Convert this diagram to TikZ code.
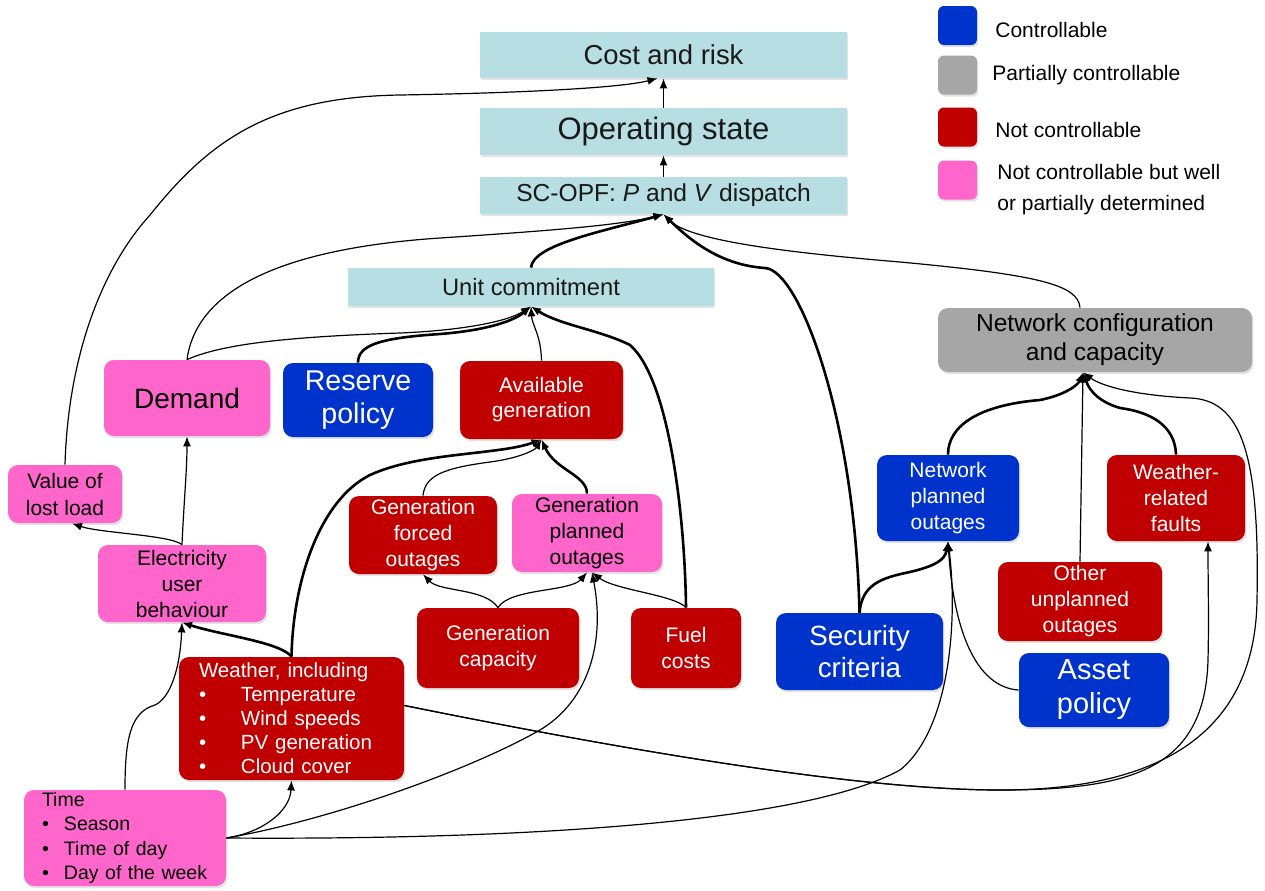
\documentclass[tikz,border=0pt]{standalone}
\usepackage{fontspec}
\setmainfont{Liberation Sans}
\usetikzlibrary{arrows.meta,shadows,calc}
\definecolor{cblue}{HTML}{0033CC}
\definecolor{cred}{HTML}{C00000}
\definecolor{cpink}{HTML}{FF66CC}
\definecolor{cgray}{HTML}{A6A6A6}
\definecolor{cteal}{HTML}{B7DEE2}
\newcommand\fs[2]{\fontsize{#1}{#2}\selectfont}
\newcommand\mkbox[7]{\node[#6, minimum width={(#4-#2)*0.5pt}, minimum height={(#5-#3)*0.5pt}] (#1) at ({(#2+#4)/2},{(#3+#5)/2}) {#7};}
\begin{document}
\begin{tikzpicture}[x=0.5pt,y=-0.5pt,
  base/.style={inner sep=0pt, align=center, drop shadow={shadow xshift=0.7pt, shadow yshift=-1.1pt, opacity=0.22}},
  teal/.style={base, fill=cteal, text=black!90},
  rbox/.style={base, rounded corners=5pt},
  bluebox/.style={rbox, fill=cblue, text=white},
  redbox/.style={rbox, fill=cred, text=white},
  pinkbox/.style={rbox, fill=cpink, text=black},
  graybox/.style={rbox, fill=cgray, text=black},
  smtxt/.style={font=\fs{10.5}{13}},
  lnthin/.style={draw, line width=0.6pt, -{Latex[length=5pt,width=4pt]}},
  lnthick/.style={draw, line width=1.3pt, -{Latex[length=5pt,width=4pt]}},
  legtxt/.style={anchor=west, inner sep=0pt, align=left, font=\fs{10.5}{15.5}}
]
\useasboundingbox (0,0) rectangle (1265,890);

% ---------- boxes ----------
\mkbox{cost}{480}{32}{847}{78}{teal,font=\fs{13.7}{16}}{Cost and risk}
\mkbox{ops}{480}{108}{847}{155}{teal,font=\fs{15.5}{18}}{Operating state}
\mkbox{scopf}{480}{177}{847}{214}{teal,font=\fs{12.3}{14}}{SC-OPF: \textit{P} and \textit{V} dispatch}
\mkbox{uc}{348}{268}{714}{306}{teal,font=\fs{11.85}{14}}{Unit commitment}
\mkbox{netcfg}{938}{308}{1252}{372}{graybox,font=\fs{12.3}{14.5}}{Network configuration\\and capacity}
\mkbox{demand}{104}{360}{270}{436}{pinkbox,font=\fs{14}{16.5}}{Demand}
\mkbox{reserve}{283}{363}{433}{437}{bluebox,font=\fs{14.3}{16.5}}{Reserve\\policy}
\mkbox{avail}{460}{361}{623}{439}{redbox,font=\fs{10.5}{12.5}}{Available\\generation}
\mkbox{voll}{8}{465}{122}{523}{pinkbox,font=\fs{10.5}{13.5}}{Value of\\lost load}
\mkbox{eub}{98}{545}{266}{622}{pinkbox,smtxt}{Electricity\\user\\behaviour}
\mkbox{gfo}{349}{496}{497}{574}{redbox,smtxt}{Generation\\forced\\outages}
\mkbox{gpo}{512}{494}{662}{572}{pinkbox,smtxt}{Generation\\planned\\outages}
\mkbox{gcap}{417}{608}{579}{688}{redbox,smtxt}{Generation\\capacity}
\mkbox{fuel}{631}{608}{741}{688}{redbox,smtxt}{Fuel\\costs}
\mkbox{sec}{776}{613}{943}{690}{bluebox,font=\fs{13.9}{16}}{Security\\criteria}
\mkbox{npo}{877}{455}{1019}{541}{bluebox,smtxt}{Network\\planned\\outages}
\mkbox{wrf}{1107}{455}{1245}{541}{redbox,smtxt}{Weather-\\related\\faults}
\mkbox{ouo}{998}{562}{1162}{641}{redbox,smtxt}{Other\\unplanned\\outages}
\mkbox{asset}{1019}{653}{1169}{727}{bluebox,font=\fs{14.5}{17}}{Asset\\policy}

\node[redbox, font=\fs{10.25}{12}, align=left, text width=92.5pt, inner xsep=10pt, minimum height=61.5pt] (weather) at (291.5,718.5)
  {Weather, including\\
   \makebox[21pt][l]{\textbullet}Temperature\\
   \makebox[21pt][l]{\textbullet}Wind speeds\\
   \makebox[21pt][l]{\textbullet}PV generation\\
   \makebox[21pt][l]{\textbullet}Cloud cover};
\node[pinkbox, font=\fs{9.75}{12.25}, align=left, text width=83pt, inner xsep=9pt, minimum height=48pt] (time) at (125,838)
  {Time\\
   \makebox[11pt][l]{\textbullet}Season\\
   \makebox[11pt][l]{\textbullet}Time of day\\
   \makebox[11pt][l]{\textbullet}Day of the week};

% ---------- legend ----------
\node[bluebox, minimum width=19.5pt, minimum height=19.5pt, rounded corners=3pt] (lg1) at (957.5,25.5) {};
\node[graybox, minimum width=19.5pt, minimum height=19.5pt, rounded corners=3pt] (lg2) at (957.5,75) {};
\node[redbox, minimum width=19.5pt, minimum height=19.5pt, rounded corners=3pt] (lg3) at (957.5,127) {};
\node[pinkbox, minimum width=19.5pt, minimum height=19.5pt, rounded corners=3pt] (lg4) at (957.5,180) {};
\node[legtxt] (lt1) at (995,30) {Controllable};
\node[legtxt] (lt2) at (992,75) {Partially controllable};
\node[legtxt] (lt3) at (995,130) {Not controllable};
\node[legtxt] (lt4) at (997,189.5) {Not controllable but well\\or partially determined};

% ---------- connectors ----------
\draw[lnthin] (ops.north) -- (cost.south);
\draw[lnthin] (scopf.north) -- (ops.south);

% into SC-OPF
\draw[lnthick] (uc.north) .. controls (533,245) and (600,232) .. (scopf.south);
\draw[lnthin] (demand.north) .. controls (195,300) and (260,250) .. (440,238) .. controls (560,230) and (620,225) .. (scopf.south);
\draw[lnthick] (sec.north) .. controls (855,420) and (800,270) .. (765,268) .. controls (720,265) and (690,240) .. (scopf.south);
\draw[lnthin] ($(netcfg.north)+(-15,0)$) .. controls (1078,285) and (1040,275) .. (900,262) .. controls (780,252) and (690,240) .. (scopf.south);

% into unit commitment
\draw[lnthin] (demand.north) .. controls (220,345) and (280,337) .. (400,333) .. controls (470,330) and (510,320) .. (uc.south);
\draw[lnthick] (reserve.north) .. controls (358,345) and (380,338) .. (440,334) .. controls (490,330) and (515,320) .. (uc.south);
\draw[lnthin] (avail.north) .. controls (541,335) and (532,325) .. (uc.south);
\draw[lnthick] (fuel.north) .. controls (685,520) and (670,380) .. (630,345) .. controls (600,330) and (560,325) .. (uc.south);

% into available generation
\draw[lnthick] (weather.north) .. controls (293,580) and (320,500) .. (370,475) .. controls (420,452) and (500,455) .. (avail.south);
\draw[lnthin] (gfo.north) .. controls (425,475) and (445,468) .. (490,462) .. controls (520,458) and (535,450) .. (avail.south);
\draw[lnthick] (gpo.north) .. controls (587,475) and (555,470) .. (avail.south);

% into generation outages
\draw[lnthin] (gcap.north) .. controls (485,588) and (440,592) .. (gfo.south);
\draw[lnthin] (gcap.north) .. controls (510,588) and (570,592) .. (gpo.south);
\draw[lnthin] (fuel.north) .. controls (675,595) and (615,590) .. ($(gpo.south)+(5,0)$);
\draw[lnthin] (time.east) .. controls (330,820) and (470,770) .. (540,730) .. controls (590,700) and (605,640) .. ($(gpo.south)+(5,0)$);

% demand side
\draw[lnthin] (eub.north) .. controls (184,500) and (187,470) .. (demand.south);
\draw[lnthin] (eub.north) .. controls (170,535) and (100,533) .. ($(voll.south)+(7,0)$);
\draw[lnthin] (voll.north) .. controls (68,360) and (100,270) .. (150,215) .. controls (210,140) and (270,97) .. (400,95) .. controls (520,93) and (620,88) .. ($(cost.south)+(-6,0)$);
\draw[lnthick] (weather.north) .. controls (280,642) and (220,635) .. (eub.south);
\draw[lnthin] (time.north) .. controls (125,740) and (130,712) .. (155,705) .. controls (170,698) and (180,670) .. (eub.south);
\draw[lnthin] (time.east) .. controls (265,832) and (290,810) .. (weather.south);

% network side
\draw[lnthin] (time.east) .. controls (500,840) and (800,825) .. (900,770) .. controls (950,730) and (958,620) .. (npo.south);
\draw[lnthin] (asset.west) .. controls (985,688) and (955,650) .. (npo.south);
\draw[lnthick] (sec.north) .. controls (862,585) and (880,578) .. (910,572) .. controls (935,566) and (945,560) .. (npo.south);
\draw[lnthin] ($(weather.east)+(0,-13)$) .. controls (600,745) and (850,790) .. (1000,790) .. controls (1150,790) and (1255,740) .. (1257,600) .. controls (1260,450) and (1240,400) .. (1190,398) .. controls (1130,395) and (1100,385) .. ($(netcfg.south)+(-12,0)$);
\draw[lnthin] ($(weather.east)+(0,-13)$) .. controls (600,745) and (850,790) .. (1000,790) .. controls (1130,790) and (1205,770) .. (1208,660) .. controls (1209,620) and (1208,580) .. ($(wrf.south)+(32,0)$);
\draw[lnthick] (npo.north) .. controls (948,425) and (980,405) .. (1040,400) .. controls (1065,395) and (1078,385) .. ($(netcfg.south)+(-12,0)$);
\draw[lnthin] (ouo.north) -- ($(netcfg.south)+(-12,0)$);
\draw[lnthick] (wrf.north) .. controls (1175,425) and (1150,412) .. (1120,408) .. controls (1100,402) and (1090,392) .. ($(netcfg.south)+(-12,0)$);
\end{tikzpicture}
\end{document}
